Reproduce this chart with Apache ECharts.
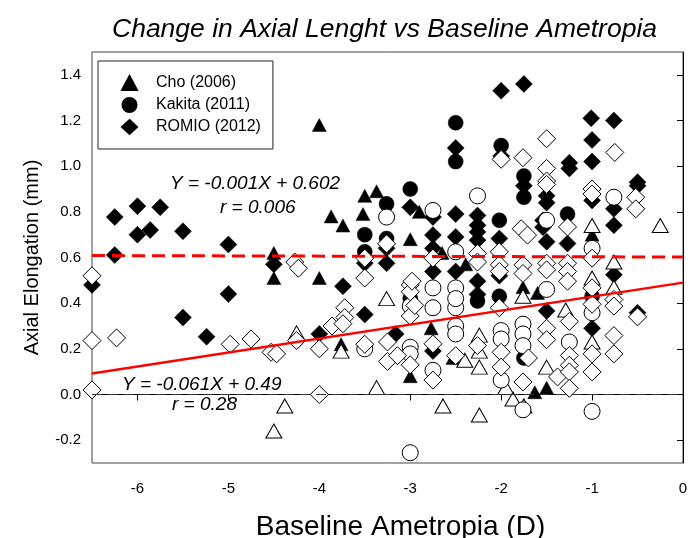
<!DOCTYPE html>
<html>
<head>
<meta charset="utf-8">
<script src="https://cdn.jsdelivr.net/npm/echarts@6/dist/echarts.min.js"></script>
<style>
  html, body { margin: 0; padding: 0; background: #fff; }
  #chart { width: 690px; height: 538px; }
</style>
</head>
<body>
<div id="chart"></div>
<script>
// ticks
var xTicks = [-6, -5, -4, -3, -2, -1, 0];
var yTicks = [-0.2, 0, 0.2, 0.4, 0.6, 0.8, 1.0, 1.2, 1.4];

// Cho (2006) - triangles
var choFilled = [[-4.0,1.18],[-4.5,0.62],[-4.5,0.51],[-4.0,0.51],[-3.37,0.89],[-3.5,0.87],[-3.52,0.79],
  [-3.87,0.78],[-3.74,0.74],[-3.0,0.68],[-3.76,0.22],[-3.0,0.08],[-2.9,0.80],[-2.65,0.62],[-2.39,0.57],
  [-2.77,0.29],[-2.53,0.16],[-1.76,0.47],[-1.6,0.445],[-1.63,0.01],[-1.5,0.03],[-1.0,0.70]];
var choHollow = [[-4.5,-0.16],[-4.38,-0.05],[-4.25,0.27],[-3.76,0.19],[-3.26,0.42],[-3.37,0.03],[-2.4,0.15],
  [-2.24,0.26],[-2.24,0.19],[-2.24,0.12],[-2.64,-0.05],[-2.24,-0.09],[-1.95,0.03],[-1.87,-0.02],[-1.76,0.43],
  [-1.75,-0.05],[-1.5,0.12],[-1.29,0.37],[-1.0,0.74],[-1.0,0.51],[-1.0,0.23],[-0.76,0.58],[-0.76,0.47],[-0.25,0.74]];

// Kakita (2011) - circles
var kakitaFilled = [[-3.0,0.90],[-3.26,0.835],[-3.5,0.70],[-3.26,0.683],[-3.5,0.625],[-3.0,0.42],[-2.5,1.19],
  [-2.5,1.02],[-2.0,1.09],[-1.75,0.957],[-1.75,0.864],[-2.02,0.763],[-2.26,0.41],[-2.02,0.43],[-1.27,0.79],
  [-1.0,0.43],[-1.75,0.16]];
var kakitaHollow = [[-3.26,0.777],[-3.0,0.387],[-3.0,0.207],[-3.0,0.178],[-3.0,-0.255],[-3.5,0.20],[-2.75,0.806],
  [-2.5,0.625],[-2.26,0.87],[-2.75,0.467],[-2.5,0.467],[-2.75,0.38],[-2.5,0.38],[-2.5,0.42],[-2.75,0.106],
  [-2.5,0.30],[-2.5,0.265],[-2.0,0.28],[-2.0,0.243],[-2.0,0.063],[-1.76,0.308],[-1.76,0.265],[-1.76,0.214],
  [-1.76,-0.067],[-1.5,0.763],[-1.5,0.46],[-1.0,0.64],[-1.0,0.358],[-0.76,0.864],[-1.25,0.23],[-1.0,-0.074]];

// ROMIO (2012) - diamonds
var romioFilled = [[-6.25,0.777],[-6.0,0.825],[-5.75,0.82],[-6.0,0.70],[-5.86,0.72],[-5.5,0.715],[-5.0,0.657],
  [-6.25,0.611],[-6.5,0.48],[-5.0,0.44],[-5.5,0.337],[-5.24,0.253],[-4.5,0.57],[-4.0,0.265],[-3.0,0.82],
  [-3.26,0.64],[-3.5,0.575],[-3.26,0.575],[-3.74,0.474],[-3.5,0.35],[-3.16,0.265],[-2.0,1.33],[-1.75,1.36],
  [-2.5,1.08],[-2.0,1.044],[-1.75,0.914],[-2.75,0.777],[-2.5,0.79],[-2.26,0.784],[-2.26,0.741],[-2.75,0.698],
  [-2.5,0.69],[-2.26,0.712],[-2.26,0.676],[-2.02,0.683],[-1.54,0.763],[-1.54,0.733],[-2.75,0.64],[-2.75,0.539],
  [-2.5,0.539],[-2.02,0.52],[-2.26,0.496],[-2.26,0.438],[-2.75,0.19],[-1.01,1.21],[-0.76,1.20],[-1.0,1.115],
  [-1.0,1.02],[-1.25,1.015],[-1.25,0.99],[-0.5,0.93],[-0.5,0.914],[-1.0,0.85],[-0.76,0.813],[-0.76,0.741],
  [-1.27,0.661],[-1.5,0.87],[-1.5,0.84],[-1.5,0.669],[-0.76,0.525],[-0.5,0.358],[-1.5,0.366],[-1.0,0.29]];
var romioHollow = [[-6.5,0.52],[-6.5,0.236],[-6.23,0.248],[-4.98,0.22],[-4.75,0.243],[-4.53,0.185],[-6.5,0.02],
  [-4.27,0.58],[-4.23,0.553],[-3.5,0.597],[-3.26,0.66],[-3.5,0.51],[-3.0,0.48],[-3.0,0.45],[-3.0,0.344],
  [-3.72,0.38],[-3.72,0.337],[-3.86,0.30],[-3.74,0.31],[-4.25,0.236],[-4.0,0.20],[-4.47,0.178],[-3.5,0.22],
  [-3.25,0.23],[-3.25,0.145],[-3.14,0.17],[-3.0,0.13],[-4.0,0.0],[-1.76,1.037],[-2.0,1.03],[-1.5,1.12],
  [-1.5,0.99],[-1.5,0.935],[-1.5,0.92],[-0.75,1.06],[-1.0,0.9],[-1.0,0.878],[-0.52,0.864],[-0.52,0.813],
  [-1.27,0.734],[-1.78,0.726],[-1.71,0.698],[-2.75,0.597],[-2.26,0.618],[-2.26,0.58],[-2.02,0.625],
  [-2.02,0.568],[-2.02,0.539],[-1.76,0.568],[-1.76,0.53],[-1.5,0.575],[-1.5,0.546],[-1.27,0.575],[-1.27,0.539],
  [-1.27,0.496],[-1.0,0.597],[-1.0,0.467],[-1.0,0.395],[-0.76,0.416],[-0.76,0.387],[-2.02,0.38],[-2.75,0.222],
  [-2.5,0.17],[-2.26,0.214],[-2.75,0.063],[-2.0,0.185],[-2.0,0.12],[-1.76,0.055],[-1.7,0.16],[-1.5,0.29],
  [-1.5,0.24],[-1.38,0.077],[-1.25,0.32],[-1.25,0.171],[-1.25,0.128],[-1.25,0.099],[-1.25,0.027],[-1.0,0.178],
  [-1.0,0.099],[-0.76,0.258],[-0.76,0.178],[-0.5,0.34],[-2.98,0.496],[-2.95,0.39]];

// fitted lines (end points at x = -6.5 and 0)
var lineX = [-6.5, 0];
var solidFitY = [0.0915, 0.49];
var dashedFitY = [0.6085, 0.602];
var zeroY = [0, 0];

function pairs(xs, ys) {
  return xs.map(function (x, i) { return [x, ys[i]]; });
}

var font = 'Liberation Sans, Arial, sans-serif';

function scatter(name, data, symbol, size, hollow) {
  return {
    name: name,
    type: 'scatter',
    data: data,
    symbol: symbol,
    symbolSize: size,
    itemStyle: hollow
      ? { color: '#fff', borderColor: '#000', borderWidth: 1, opacity: 1 }
      : { color: '#000', borderColor: '#000', borderWidth: 0.5, opacity: 1 }
  };
}

var myChart = echarts.init(document.getElementById('chart'));
myChart.setOption({
  animation: false,
  textStyle: { fontFamily: font },
  title: {
    text: 'Change in Axial Lenght vs Baseline Ametropia',
    left: 107,
    top: 11,
    textStyle: { fontSize: 26.5, fontStyle: 'italic', fontWeight: 'normal', color: '#000', fontFamily: font }
  },
  grid: {
    left: 92, right: 7, top: 52, bottom: 75,
    outerBoundsMode: 'none',
    containLabel: false,
    show: true, borderColor: '#444', borderWidth: 1
  },
  legend: {
    orient: 'vertical',
    left: 98,
    top: 61,
    padding: [14, 12, 14, 23],
    borderColor: '#222',
    borderWidth: 1,
    itemWidth: 15,
    itemHeight: 14,
    itemGap: 6,
    data: [
      { name: 'Cho (2006)', icon: 'triangle' },
      { name: 'Kakita (2011)', icon: 'circle' },
      { name: 'ROMIO (2012)', icon: 'diamond' }
    ],
    textStyle: { fontSize: 16, color: '#000', fontFamily: font, padding: [0, 0, 0, 14] }
  },
  xAxis: {
    type: 'value',
    min: -6.5,
    max: 0,
    name: 'Baseline Ametropia (D)',
    nameLocation: 'middle',
    nameGap: 50,
    nameTextStyle: { fontSize: 28, color: '#000', fontFamily: font, padding: [0, 0, 0, 26] },
    axisLine: { lineStyle: { color: '#000', width: 1 } },
    axisTick: { customValues: xTicks, length: 6, lineStyle: { color: '#000' } },
    axisLabel: { customValues: xTicks, margin: 18, fontSize: 15, color: '#000', fontFamily: font },
    splitLine: { show: false }
  },
  yAxis: {
    type: 'value',
    min: -0.3,
    max: 1.5,
    name: 'Axial Elongation (mm)',
    nameLocation: 'middle',
    nameGap: 50,
    nameTextStyle: { fontSize: 20, color: '#000', fontFamily: font },
    axisLine: { lineStyle: { color: '#000', width: 1 } },
    axisTick: { customValues: yTicks, length: 6, lineStyle: { color: '#000' } },
    axisLabel: {
      customValues: yTicks, margin: 11, fontSize: 15, color: '#000', fontFamily: font,
      formatter: function (v) { return v.toFixed(1); }
    },
    splitLine: { show: false }
  },
  series: [
    scatter('Cho (2006)', choFilled, 'triangle', [14, 13], false),
    scatter('Kakita (2011)', kakitaFilled, 'circle', 15, false),
    scatter('ROMIO (2012)', romioFilled, 'diamond', 17, false),
    scatter('Cho hollow', choHollow, 'triangle', [16, 14], true),
    scatter('Kakita hollow', kakitaHollow, 'circle', 16, true),
    scatter('ROMIO hollow', romioHollow, 'diamond', 18, true),
    {
      type: 'line', data: pairs(lineX, zeroY), symbol: 'none', z: 5,
      lineStyle: { color: '#333', width: 1.2, type: [10, 6] }
    },
    {
      type: 'line', data: pairs(lineX, solidFitY), symbol: 'none', z: 6,
      lineStyle: { color: '#ff0000', width: 2.5 }
    },
    {
      type: 'line', data: pairs(lineX, dashedFitY), symbol: 'none', z: 6,
      lineStyle: { color: '#ff0000', width: 3, type: [13, 7] }
    }
  ],
  graphic: [
    { type: 'text', left: 170, top: 174, z: 10,
      style: { text: 'Y = -0.001X + 0.602', font: 'italic 19px ' + font, fill: '#000' } },
    { type: 'text', left: 220, top: 198, z: 10,
      style: { text: 'r = 0.006', font: 'italic 19px ' + font, fill: '#000' } },
    { type: 'text', left: 122, top: 375, z: 10,
      style: { text: 'Y = -0.061X + 0.49', font: 'italic 19px ' + font, fill: '#000' } },
    { type: 'text', left: 172, top: 395, z: 10,
      style: { text: 'r = 0.28', font: 'italic 19px ' + font, fill: '#000' } }
  ]
});
</script>
</body>
</html>
